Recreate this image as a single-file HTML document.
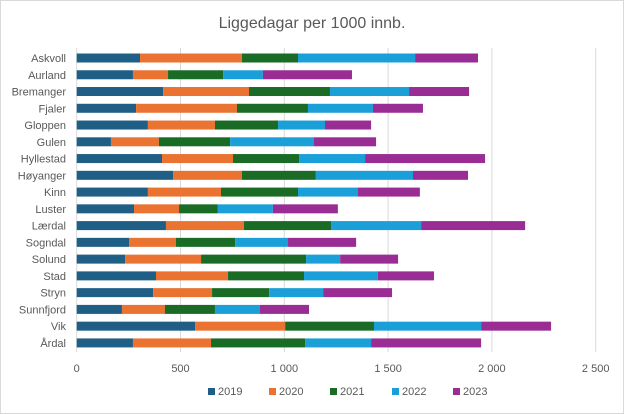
<!DOCTYPE html>
<html><head><meta charset="utf-8"><style>
body{margin:0;background:#fff;font-family:"Liberation Sans",sans-serif}
#c{position:absolute;left:0;top:0;width:624px;height:414px}
</style></head><body>
<svg id="c" width="624" height="414" xmlns="http://www.w3.org/2000/svg">
<rect x="0.5" y="0.5" width="623" height="413" fill="#fff" stroke="#d9d9d9"/>
<text x="312" y="28" text-anchor="middle" font-size="16" fill="#595959">Liggedagar per 1000 innb.</text>
<g id="grid"></g><g id="bars"></g><g id="labels"></g><g id="ticks"></g><g id="legend"></g>
</svg>
<script>
const categories=["Askvoll","Aurland","Bremanger","Fjaler","Gloppen","Gulen","Hyllestad","Høyanger","Kinn","Luster","Lærdal","Sogndal","Solund","Stad","Stryn","Sunnfjord","Vik","Årdal"];
const seriesNames=["2019","2020","2021","2022","2023"];
const v2019=[305,271,416,286,343,165,411,464,343,276,430,252,233,382,368,218,570,271];
const v2020=[491,169,414,486,323,231,342,332,352,217,376,226,366,347,284,207,434,376];
const v2021=[270,265,390,342,304,343,318,356,371,187,419,285,506,366,275,241,428,453];
const v2022=[564,192,381,313,226,404,318,468,289,265,434,255,164,356,260,217,516,318];
const v2023=[303,429,289,241,222,299,578,265,298,313,501,328,279,270,332,236,337,530];
const tickValues=[0,500,1000,1500,2000,2500];
const tickLabels=["0","500","1 000","1 500","2 000","2 500"];
const colors=["#1f5f86","#ea7331","#1a6b26","#1b9fd8","#992d94"];
const series=[v2019,v2020,v2021,v2022,v2023];
const NS="http://www.w3.org/2000/svg";
const x0=76.7,x1=595.7,maxV=2500,yTop=58,yStep=16.76,barH=9;
const xs=v=>x0+(x1-x0)*v/maxV;
const ys=i=>yTop+i*yStep;
function mk(tag,attrs,parent){const e=document.createElementNS(NS,tag);for(const k in attrs)e.setAttribute(k,attrs[k]);document.getElementById(parent).appendChild(e);return e;}
tickValues.forEach((t,i)=>{
 const g=mk("line",{x1:xs(t),x2:xs(t),y1:48,y2:352,stroke:"#d9d9d9","stroke-width":1},"grid");
 
 
 const tx=mk("text",{x:xs(t),y:372,"text-anchor":"middle","font-size":11,fill:"#595959"},"ticks");
 tx.textContent=tickLabels[i];
 
 
});
categories.forEach((c,i)=>{
 const l=mk("text",{x:66,y:ys(i)+4,"text-anchor":"end","font-size":11,fill:"#595959"},"labels");
 l.textContent=c;
 
 
 let cum=0;
 series.forEach((s,j)=>{
  const r=mk("rect",{x:xs(cum),y:ys(i)-barH/2,width:xs(cum+s[i])-xs(cum),height:barH,fill:colors[j]},"bars");
  
  
  cum+=s[i];
 });
});
const lx=[208,269,330,392,453];
seriesNames.forEach((n,j)=>{
 const sq=mk("rect",{x:lx[j],y:388,width:7,height:7,fill:colors[j]},"legend");
 
 
 const t=mk("text",{x:lx[j]+10,y:395,"font-size":11,fill:"#595959"},"legend");
 t.textContent=n;
 
 
});
</script>
</body></html>
